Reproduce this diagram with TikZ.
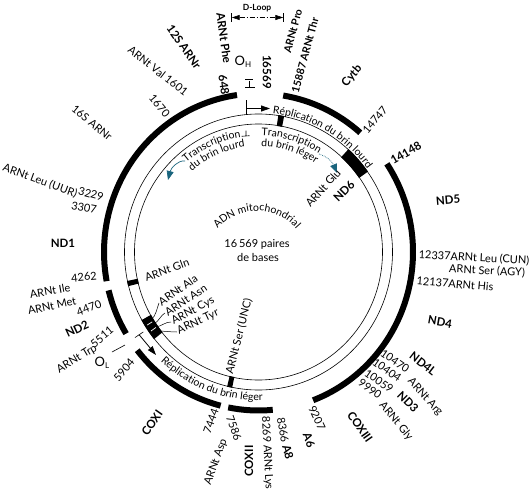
\documentclass[tikz,border=0pt]{standalone}
\usepackage{fontspec}
\setmainfont{Lato}
\usetikzlibrary{arrows.meta,calc,decorations.text}
\definecolor{tealarrow}{RGB}{25,100,125}
\newcommand\tharc[2]{\draw[thickseg] ($(C)+(#1:154.5pt and 158.5pt)$) arc[start angle=#1,end angle=#2,x radius=154.5pt,y radius=158.5pt];}
\newcommand\bandblock[2]{\fill ($(C)+(#1:123.5pt and 127.5pt)$) arc[start angle=#1,end angle=#2,x radius=123.5pt,y radius=127.5pt] -- ($(C)+(#2:134.5pt and 138.5pt)$) arc[start angle=#2,end angle=#1,x radius=134.5pt,y radius=138.5pt] -- cycle;}
\begin{document}
\begin{tikzpicture}[x=1pt,y=-1pt,
  every node/.style={inner sep=0pt,outer sep=0pt,font=\fontsize{11}{12}\selectfont},
  bl/.style={font=\fontsize{11.5}{12}\selectfont\bfseries},
  bls/.style={font=\fontsize{10.5}{12}\selectfont\bfseries},
  thickseg/.style={line width=6pt},
  band/.style={line width=0.6pt},
  leader/.style={line width=0.5pt},
  tarrow/.style={color=tealarrow,line width=0.7pt,-{Triangle[length=9pt,width=7pt]}},
  blackarrow/.style={line width=0.8pt,-{Triangle[length=9pt,width=6pt]}}]
\useasboundingbox (0,0) rectangle (530,490);
\coordinate (C) at (258.5,252);
% outer thick arcs (heavy strand genes)
\tharc{98}{190.6}
\tharc{194}{211}
\tharc{218.3}{255.8}
\tharc{258.7}{275.3}
\tharc{-69.3}{33.8}
\tharc{48.8}{80.8}
% inner band
\draw[band] (C) ellipse [x radius=124pt, y radius=128pt];
\draw[band] (C) ellipse [x radius=134pt, y radius=138pt];
\bandblock{79}{81.5}
\bandblock{35.5}{48}
\bandblock{192.1}{194.3}
\bandblock{209.5}{219}
\bandblock{256.5}{258.7}
\draw[white,line width=0.7pt] ($(C)+(212.5:126pt and 130pt)$) -- ($(C)+(212.5:132pt and 136pt)$);
\draw[white,line width=0.7pt] ($(C)+(215.5:126pt and 130pt)$) -- ($(C)+(215.5:132pt and 136pt)$);
% D-loop
\coordinate (dl1) at (231.7,13); \coordinate (dl2) at (231.7,22);
\coordinate (dr1) at (283.3,13); \coordinate (dr2) at (283.3,22);
\coordinate (dla) at (231.7,17.5); \coordinate (dra) at (283.3,17.5);
\draw[line width=0.6pt] (dl1) -- (dl2);
\draw[line width=0.6pt] (dr1) -- (dr2);
\draw[line width=0.6pt,dash pattern=on 5pt off 2pt on 1pt off 2pt,{Triangle[length=8pt,width=5pt]}-{Triangle[length=8pt,width=5pt]}] (dla) -- (dra);
\node[font=\fontsize{8.5}{10}\selectfont\bfseries] (dloop) at (257,8.5) {D-Loop};
% OH
\node[font=\fontsize{13}{14}\selectfont] (oh) at (243,62) {O\raisebox{-2pt}{\fontsize{8}{9}\selectfont H}};
\coordinate (oht1) at (245,79.5); \coordinate (oht2) at (253,79.5);
\coordinate (ohs1) at (249.3,80.5); \coordinate (ohs2) at (249.3,87);
\coordinate (ohb1) at (245,87); \coordinate (ohb2) at (255,87);
\draw[line width=0.6pt] (oht1) -- (oht2) (ohs1) -- (ohs2) (ohb1) -- (ohb2);
% replication heavy strand
\coordinate (hs1) at (246.7,100); \coordinate (hs2) at (246.7,115);
\coordinate (ha1) at (246.7,108.5); \coordinate (ha2) at (270,108.5);
\draw[line width=0.6pt] (hs1) -- (hs2);
\draw[blackarrow] (ha1) -- (ha2);
\path[decorate,decoration={text along path,text align=left,text={|\fontsize{10.5}{12}\selectfont|Réplication du brin lourd}}] ($(C)+(84:135.5pt and 139.5pt)$) arc[start angle=84,end angle=10,x radius=135.5pt,y radius=139.5pt];
% replication light strand
\coordinate (ls1) at ($(C)+(214:139pt and 143pt)$);
\coordinate (ls2) at ($(C)+(214:149pt and 153pt)$);
\coordinate (lsm) at ($(ls1)!0.5!(ls2)$);
\coordinate (lse) at (156,355);
\draw[line width=0.6pt] (ls1) -- (ls2);
\draw[blackarrow] (lsm) -- (lse);
\coordinate (ol1) at (112,352); \coordinate (ol2) at (125,345);
\draw[line width=0.6pt] (ol1) -- (ol2);
\node[font=\fontsize{13}{14}\selectfont] (ol) at (102,363) {O\raisebox{-2pt}{\fontsize{8}{9}\selectfont L}};
\path[decorate,decoration={text along path,text align=left,text={|\fontsize{10.5}{12}\selectfont|Réplication du brin léger}}] ($(C)+(227.5:145pt and 148.5pt)$) arc[start angle=227.5,end angle=300,x radius=145pt,y radius=148.5pt];
% transcription texts
\path[decorate,decoration={text along path,text align=right,text={|\fontsize{10.5}{12}\selectfont|Transcription}}] ($(C)+(145:113pt and 116.5pt)$) arc[start angle=145,end angle=99,x radius=113pt,y radius=116.5pt];
\path[decorate,decoration={text along path,text align=right,text={|\fontsize{10.5}{12}\selectfont|du brin lourd}}] ($(C)+(145:103pt and 106pt)$) arc[start angle=145,end angle=97.5,x radius=103pt,y radius=106pt];
\coordinate (tp1) at (246,130.5); \coordinate (tp2) at (246,136);
\coordinate (tb1) at (241.7,136.3); \coordinate (tb2) at (249.5,135.7);
\draw[line width=0.6pt] (tp1) -- (tp2) (tb1) -- (tb2);
\path[decorate,decoration={text along path,text align=left,text={|\fontsize{10.5}{12}\selectfont|Transcription}}] ($(C)+(88.5:113pt and 116.5pt)$) arc[start angle=88.5,end angle=40,x radius=113pt,y radius=116.5pt];
\path[decorate,decoration={text along path,text align=left,text={|\fontsize{10.5}{12}\selectfont|du brin léger}}] ($(C)+(88.5:103pt and 106pt)$) arc[start angle=88.5,end angle=40,x radius=103pt,y radius=106pt];
\coordinate (tl1) at (185,161); \coordinate (tl2) at (168,180);
\draw[tarrow] (tl1) .. controls (178,160) and (171,168) .. (tl2);
\coordinate (tr1) at (319,154); \coordinate (tr2) at (337,173);
\draw[tarrow,densely dotted] (tr1) .. controls (326,156) and (332,161) .. (tr2);
% centre
\coordinate (C2) at (257,263);
\path[decorate,decoration={text along path,text align=center,text={|\fontsize{10.5}{12}\selectfont|ADN mitochondrial}}] ($(C2)+(160:52pt)$) arc[start angle=160,end angle=20,radius=52pt];
\node (pb) at (257,244) {16\,569 paires};
\node (db) at (258,257) {de bases};
% top labels
\node[bl,rotate=-82] (phe) at (224,38) {ARNt Phe};
\node[bl,rotate=-82] (p648) at (224,85) {648};
\node[bl,rotate=-55] (r12) at (184,47) {12S ARNr};
\node[rotate=-38] (val) at (158,71) {ARNt Val 1601};
\node[rotate=-50] (v1670) at (159.5,106) {1670};
\node[rotate=-39] (r16) at (92,123) {16S ARNr};
\node[bls,rotate=75] (pro) at (293,31) {ARNt Pro};
\node[bls,rotate=75] (thr) at (305,55) {15887 ARNt Thr};
\node[bl,rotate=-90] (n16569) at (267,72) {16569};
% left labels
\node[rotate=-20] (leu1) at (40,181) {ARNt Leu (UUR)};
\node[rotate=-15] (n3229) at (91,194) {3229};
\node[rotate=-10] (n3307) at (84,208) {3307};
\node[bl] (nd1) at (63,243) {ND1};
\node[rotate=5] (n4262) at (84,277) {4262};
\node[rotate=10] (ile) at (50,291) {ARNt Ile};
\node[rotate=12] (met) at (52,306) {ARNt Met};
\node[rotate=20] (n4470) at (89,308) {4470};
\node[bl,rotate=25] (nd2) at (77,329) {ND2};
\node[rotate=40] (n5511) at (102,337) {5511};
\node[rotate=31] (trp) at (77,359) {ARNt Trp};
\node[rotate=50] (n5904) at (124,370) {5904};
% bottom labels
\node[bl,rotate=55] (cox1) at (152,423) {COXI};
\node[rotate=70] (n7444) at (211,421) {7444};
\node[rotate=70] (asp) at (216,462) {ARNt Asp};
\node[rotate=-70] (n7586) at (234,428) {7586};
\node[bl,rotate=90] (cox2) at (249,461) {COXII};
\node[rotate=-87] (lys) at (267,453) {8269 ARNt Lys};
\node[rotate=-80] (n8366) at (283,430) {8366};
\node[bl,rotate=-75] (a8) at (288,452) {A8};
\node[bl,rotate=-70] (a6) at (309,440) {A6};
\node[rotate=-65] (n9207) at (317,418) {9207};
\node[bl,rotate=-55] (cox3) at (360,427) {COXIII};
\node[rotate=-35] (n9990) at (370,389) {9990};
\node[rotate=-35] (n10059) at (379,381) {10059};
\node[rotate=-35] (n10404) at (387,370) {10404};
\node[rotate=-35] (n10470) at (395,361) {10470};
\node[rotate=-50] (gly) at (396,421) {ARNt Gly};
\node[bl,rotate=-45] (nd3) at (408,402) {ND3};
\node[rotate=-48] (arg) at (425,397) {ARNt Arg};
\node[bl,rotate=-38] (nd4l) at (423,364) {ND4L};
% right labels
\node[bl,rotate=-10] (nd4) at (440,322) {ND4};
\node[rotate=-3] (leu2) at (474,258) {12337ARNt Leu (CUN)};
\node[rotate=-3] (ser2) at (487,271) {ARNt Ser (AGY)};
\node[rotate=-5] (his) at (455,284) {12137ARNt His};
\node[bl,rotate=5] (nd5) at (448,200) {ND5};
\node[bl,rotate=30] (n14148) at (406,153) {14148};
\node[rotate=50] (n14747) at (375,120) {14747};
\node[bl,rotate=50] (cytb) at (352,76) {Cytb};
% inner labels
\node[rotate=48] (glu) at (323,188) {ARNt Glu};
\node[bl,rotate=45] (nd6) at (344,191) {ND6};
\node[rotate=20] (gln) at (167,270) {ARNt Gln};
\node[rotate=35] (ala) at (178,290) {ARNt Ala};
\node[rotate=33] (asn) at (186,300) {ARNt Asn};
\node[rotate=28] (cys) at (193,311) {ARNt Cys};
\node[rotate=25] (tyr) at (198,322) {ARNt Tyr};
\node[rotate=76] (ser1) at (239,336) {ARNt Ser (UNC)};
% leaders to tRNA cluster
\coordinate (la1) at (151,320); \coordinate (la2) at (159,303);
\coordinate (lb1) at (154,324); \coordinate (lb2) at (165,313);
\coordinate (lc1) at (156,327); \coordinate (lc2) at (171,322);
\coordinate (ld1) at (158,331); \coordinate (ld2) at (177,332);
\draw[leader] (la1) .. controls (156,316) and (157,308) .. (la2);
\draw[leader] (lb1) .. controls (159,321) and (161,315) .. (lb2);
\draw[leader] (lc1) .. controls (162,326) and (165,322) .. (lc2);
\draw[leader] (ld1) .. controls (164,331) and (170,332) .. (ld2);
\end{tikzpicture}
\end{document}
